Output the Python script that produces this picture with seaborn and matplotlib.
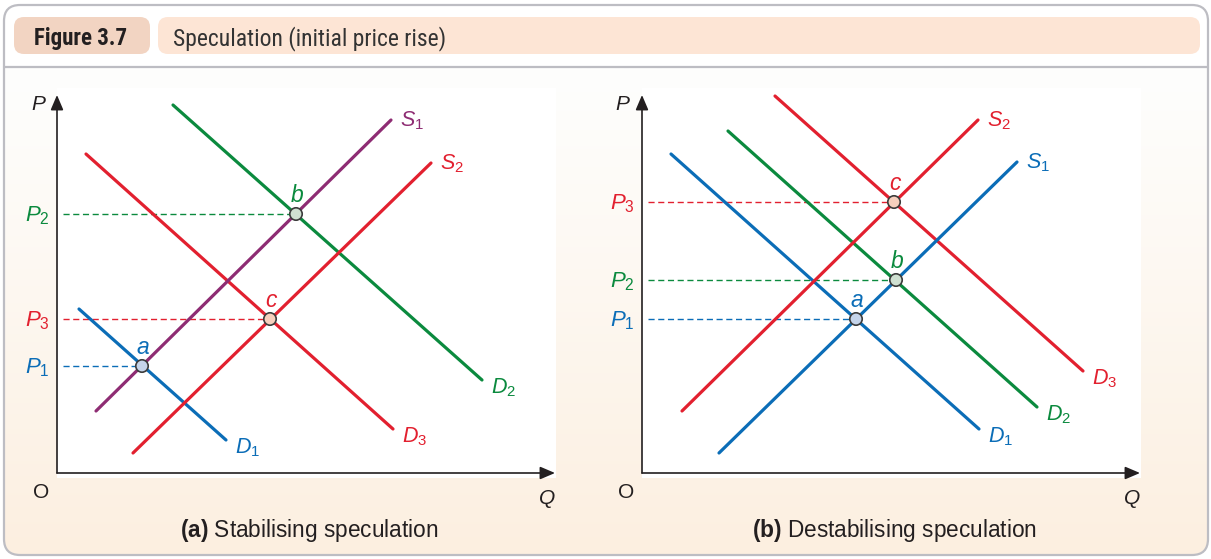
import numpy as np
import pandas as pd
import matplotlib
matplotlib.use("Agg")
import matplotlib.pyplot as plt
import seaborn as sns
from matplotlib.patches import FancyBboxPatch
from matplotlib.colors import LinearSegmentedColormap
from matplotlib import font_manager as fm

# ------------------------------------------------------------------ data
# Chart units: Q along the horizontal axis, P along the vertical axis, origin O = (0, 0)
# Panel (a) Stabilising speculation
a_curves = ["D1", "D2", "D3", "S1", "S2"]
a_q_start = [2.2, 11.6, 2.9, 3.9, 7.6]
a_p_start = [16.4, 36.8, 31.9, 6.2, 2.0]
a_q_end = [16.9, 42.5, 33.6, 33.4, 37.4]
a_p_end = [3.3, 9.3, 4.4, 35.3, 31.0]
a_points = ["a", "b", "c"]
a_point_q = [8.5, 23.9, 21.3]
a_point_p = [10.7, 25.9, 15.4]
a_price_labels = ["P1", "P2", "P3"]

# Panel (b) Destabilising speculation
b_curves = ["D1", "D2", "D3", "S1", "S2"]
b_q_start = [2.9, 8.6, 13.3, 7.7, 4.0]
b_p_start = [31.9, 34.2, 37.7, 2.0, 6.2]
b_q_end = [33.7, 39.5, 44.1, 37.5, 33.6]
b_p_end = [4.4, 6.6, 10.2, 31.1, 35.3]
b_points = ["a", "b", "c"]
b_point_q = [21.4, 25.4, 25.2]
b_point_p = [15.4, 19.3, 27.1]
b_price_labels = ["P1", "P2", "P3"]

title_tag = "Figure 3.7"
title_text = "Speculation (initial price rise)"
captions = [("(a)", "Stabilising speculation"), ("(b)", "Destabilising speculation")]

# ------------------------------------------------------------------ style
BLUE = "#0b6db7"
RED = "#e2202f"
GREEN = "#0b8a3e"
PURPLE = "#8e2c73"
INK = "#231f20"

a_colors = {"D1": BLUE, "D2": GREEN, "D3": RED, "S1": PURPLE, "S2": RED}
b_colors = {"D1": BLUE, "D2": GREEN, "D3": RED, "S1": BLUE, "S2": RED}
point_colors = {"a": BLUE, "b": GREEN, "c": RED}
point_fills = {"a": "#c5d4ea", "b": "#cfe0d1", "c": "#f6cfbd"}

sns.set_theme(style="white")
SANS = "Liberation Sans"
plt.rcParams["font.family"] = [SANS, "DejaVu Sans"]
plt.rcParams["mathtext.fontset"] = "custom"
plt.rcParams["mathtext.rm"] = SANS
plt.rcParams["mathtext.it"] = SANS + ":italic"
plt.rcParams["mathtext.bf"] = SANS + ":bold"
plt.rcParams["lines.scale_dashes"] = False


def find_condensed(bold):
    best = None
    for f in fm.fontManager.ttflist:
        name = f.name
        st = str(f.stretch)
        is_cond = ("Narrow" in name or "Condensed" in name or
                   st in ("condensed", "semi-condensed", "500", "600", "625", "700", "750"))
        if not is_cond or "Extra" in name or "Ultra" in name:
            continue
        if str(f.style) != "normal":
            continue
        w = f.weight if isinstance(f.weight, int) else (700 if "bold" in str(f.weight) else 400)
        if bold and w < 600:
            continue
        if not bold and (w > 500 or w < 350):
            continue
        score = 0 if "Liberation" in name else (1 if "Roboto" in name else 2)
        if best is None or score < best[0]:
            best = (score, f.fname)
    return best[1] if best else None


cond_reg = find_condensed(False)
cond_bold = find_condensed(True)
if cond_reg and cond_bold:
    hdr_reg = fm.FontProperties(fname=cond_reg, size=17)
    hdr_bold = fm.FontProperties(fname=cond_bold, size=16.5)
else:
    hdr_reg = fm.FontProperties(family=SANS, size=14.5)
    hdr_bold = fm.FontProperties(family=SANS, weight="bold", size=14)

W, H = 1211, 559
fig = plt.figure(figsize=(W / 100, H / 100), dpi=100)
fig.patch.set_facecolor("white")

# ------------------------------------------------------------------ frame & header (pixel coordinates)
bg = fig.add_axes([0, 0, 1, 1])
bg.set_xlim(0, W)
bg.set_ylim(H, 0)
bg.axis("off")

frame = FancyBboxPatch((4, 5), 1204, 550, boxstyle="round,pad=0,rounding_size=16",
                       facecolor="white", edgecolor="none", zorder=0)
bg.add_patch(frame)
grad = np.linspace(0, 1, 256).reshape(-1, 1) ** 1.1
cmap = LinearSegmentedColormap.from_list("cream", ["#fefefd", "#fcefe0"])
im = bg.imshow(grad, cmap=cmap, extent=(4, 1208, 555, 67), aspect="auto", zorder=1)
im.set_clip_path(frame)
bg.add_patch(FancyBboxPatch((4, 5), 1204, 550, boxstyle="round,pad=0,rounding_size=16",
                            facecolor="none", edgecolor="#bdbdc3", linewidth=1.6, zorder=3))
bg.plot([4, 1208], [67, 67], color="#bdbdc3", lw=1.6, zorder=3)

bg.add_patch(FancyBboxPatch((14, 17), 136, 37, boxstyle="round,pad=0,rounding_size=10",
                            facecolor="#f2d4c2", edgecolor="none", zorder=2))
bg.add_patch(FancyBboxPatch((158, 17), 1042, 37, boxstyle="round,pad=0,rounding_size=10",
                            facecolor="#fde5d5", edgecolor="none", zorder=2))
bg.text(81, 45, title_tag, fontproperties=hdr_bold, color=INK, ha="center", va="baseline", zorder=4)
bg.text(173, 45, title_text, fontproperties=hdr_reg, color="#333333", ha="left", va="baseline", zorder=4)

cap_x = [309.5, 894.5]
for (tag, txt), cx in zip(captions, cap_x):
    bg.text(cx, 537, r"$\mathbf{" + tag + "}$ " + txt, fontsize=16.3, color=INK,
            ha="center", va="baseline", zorder=4)


def sub(label):
    return r"$\mathit{" + label[0] + r"}_{\mathrm{" + label[1:] + "}}$"


def draw_panel(left_px, names, qs, ps, qe, pe, colors, pts, pq, pp, plabels, plabel_dx):
    ax = fig.add_axes([left_px / W, 1 - 478 / H, 499 / W, 390 / H])
    ax.set_facecolor("white")
    ax.set_xlim(0, 49.9)
    ax.set_ylim(-0.5, 38.5)
    for s in ax.spines.values():
        s.set_visible(False)
    ax.set_xticks([])
    ax.set_yticks([])

    # axes arrows
    ax.annotate("", xy=(49.8, 0), xytext=(0, 0),
                arrowprops=dict(arrowstyle="-|>,head_length=0.75,head_width=0.32", color=INK,
                                lw=1.2, shrinkA=0, shrinkB=0), annotation_clip=False)
    ax.annotate("", xy=(0, 37.8), xytext=(0, 0),
                arrowprops=dict(arrowstyle="-|>,head_length=0.75,head_width=0.32", color=INK,
                                lw=1.2, shrinkA=0, shrinkB=0), annotation_clip=False)

    # dashed price lines
    for name, q, p in zip(pts, pq, pp):
        ax.plot([0.6, q], [p, p], color=point_colors[name], lw=1.0, dashes=(4.4, 2.6), zorder=2)

    # curves
    rows = []
    for n, q0, p0, q1, p1 in zip(names, qs, ps, qe, pe):
        rows.append({"curve": n, "Q": q0, "P": p0})
        rows.append({"curve": n, "Q": q1, "P": p1})
    df = pd.DataFrame(rows)
    sns.lineplot(data=df, x="Q", y="P", hue="curve", palette=colors, sort=False,
                 estimator=None, legend=False, lw=2.3, ax=ax, zorder=3)

    # curve labels
    for n, q1, p1 in zip(names, qe, pe):
        off = (9, -6) if n.startswith("S") else (9, -13)
        ax.annotate(sub(n), xy=(q1, p1), xytext=off, textcoords="offset pixels",
                    ha="left", va="baseline", fontsize=15.5, color=colors[n])

    # equilibrium points
    dfp = pd.DataFrame({"pt": pts, "Q": pq, "P": pp})
    sns.scatterplot(data=dfp, x="Q", y="P", hue="pt", palette=point_fills, s=80,
                    edgecolor="#3c3c3c", linewidth=1.2, legend=False, ax=ax, zorder=5)
    for name, q, p in zip(pts, pq, pp):
        ax.annotate(name, xy=(q, p), xytext=(1, 12), textcoords="offset pixels",
                    ha="center", va="baseline", fontsize=16.5, style="italic",
                    color=point_colors[name])
    # price labels
    for name, lab, p in zip(pts, plabels, pp):
        ax.annotate(sub(lab), xy=(0, p), xytext=(-7, -7), textcoords="offset pixels",
                    ha="right", va="baseline", fontsize=16, color=point_colors[name],
                    annotation_clip=False)
    # axis names and origin
    ax.annotate("P", xy=(0, 37.8), xytext=(plabel_dx, -15), textcoords="offset pixels",
                ha="right", va="baseline", fontsize=15, style="italic", color=INK,
                annotation_clip=False)
    ax.annotate("Q", xy=(49.8, 0), xytext=(0, -31), textcoords="offset pixels",
                ha="right", va="baseline", fontsize=15, style="italic", color=INK,
                annotation_clip=False)
    ax.annotate("O", xy=(0, 0), xytext=(-16, -25), textcoords="offset pixels",
                ha="center", va="baseline", fontsize=15, color=INK, annotation_clip=False)
    ax.set_xlabel("")
    ax.set_ylabel("")
    return ax


draw_panel(57, a_curves, a_q_start, a_p_start, a_q_end, a_p_end, a_colors,
           a_points, a_point_q, a_point_p, a_price_labels, -12)
draw_panel(642, b_curves, b_q_start, b_p_start, b_q_end, b_p_end, b_colors,
           b_points, b_point_q, b_point_p, b_price_labels, -13)

fig.savefig("out.png", dpi=100, facecolor="white")
